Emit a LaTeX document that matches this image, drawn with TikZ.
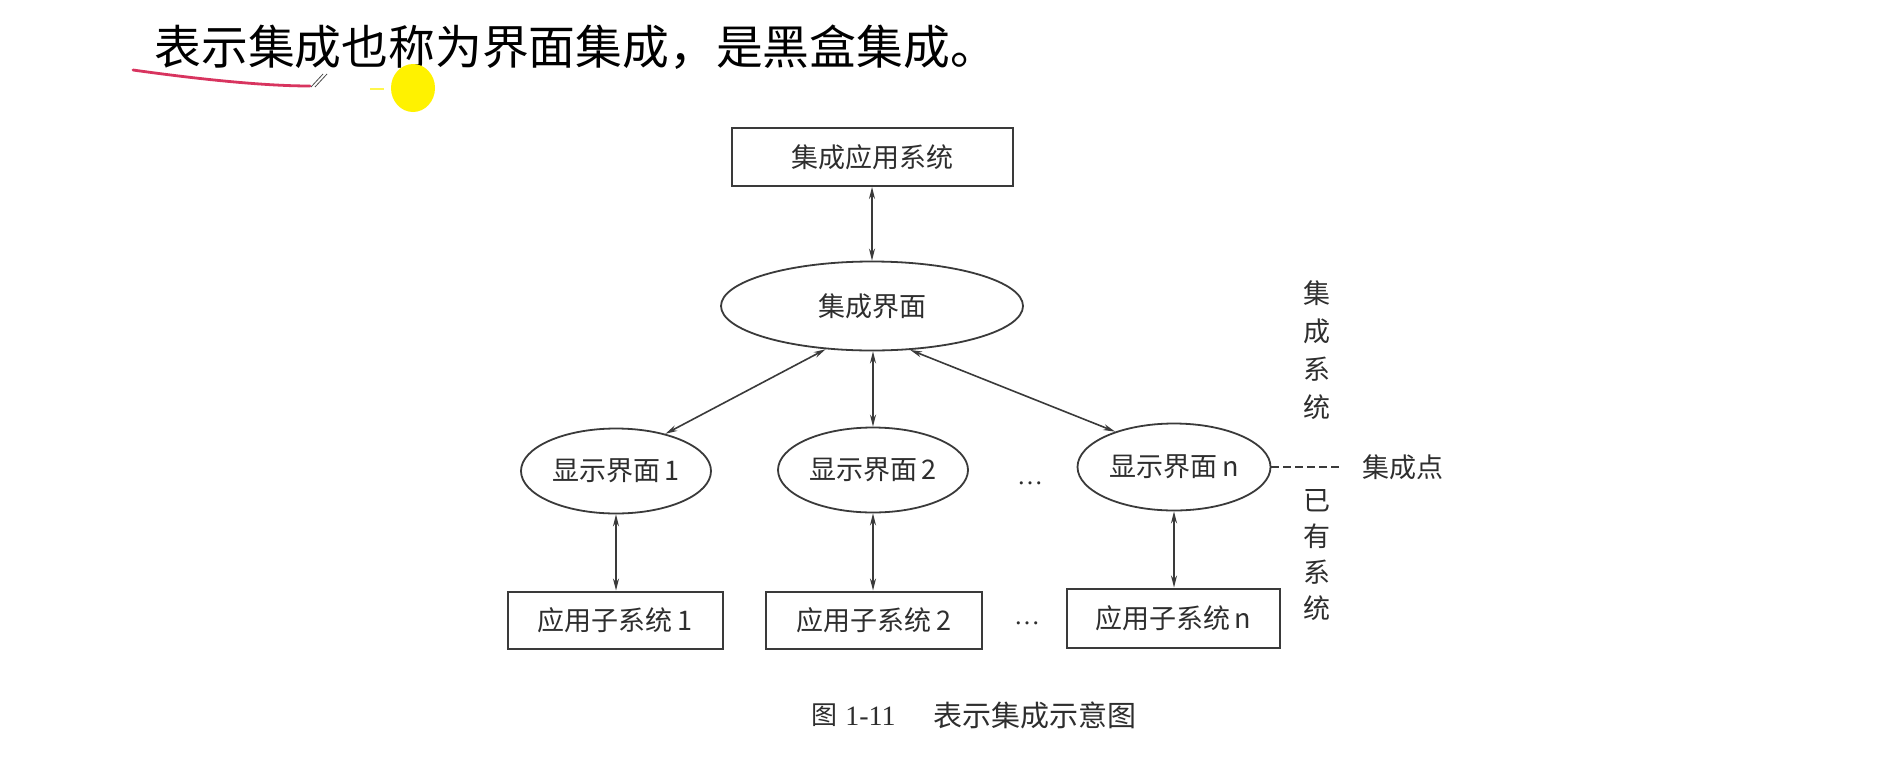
\documentclass[tikz,border=0pt]{standalone}
\usepackage{fontspec}
\setmainfont{Liberation Serif}
\newfontfamily\cjk{Noto Sans CJK SC}
\usetikzlibrary{shapes.geometric,arrows.meta}
\definecolor{lc}{HTML}{3A3A3A}
\definecolor{tc}{HTML}{2E2E2E}
\definecolor{pen}{HTML}{D8345F}
\definecolor{hl}{HTML}{FFF200}
\begin{document}
\begin{tikzpicture}[x=0.5pt,y=-0.5pt,
  box/.style={draw=lc,line width=1pt,inner sep=0pt,text=tc,font=\cjk\fontsize{13.5}{16}\selectfont},
  oval/.style={ellipse,draw=lc,line width=0.9pt,inner sep=0pt,text=tc,font=\cjk\fontsize{13.5}{16}\selectfont},
  link/.style={draw=lc,line width=0.8pt,{Stealth[length=6pt,width=3pt]}-{Stealth[length=6pt,width=3pt]}},
  lbl/.style={text=tc,inner sep=0pt,font=\cjk\fontsize{13.5}{16}\selectfont}]
\useasboundingbox (0,0) rectangle (1883,766);
\fill[white] (0,0) rectangle (1883,766);

% title and annotations
\node[anchor=west,inner sep=0pt,font=\cjk\fontsize{23.4}{28}\selectfont] (title) at (154,47) {表示集成也称为界面集成，是黑盒集成。};
\draw[pen,line width=1.4pt,line cap=round] (133,70) .. controls (190,78) and (260,86) .. (310,86);
\draw[gray!60!black,line width=0.4pt] (311,87) -- (323,74) (315,87) -- (327,74);
\draw[hl!70,line width=1pt] (370,89) -- (384,89);
\fill[hl] (413,88) ellipse [x radius=22, y radius=24];

% diagram nodes
\node[box,minimum width=140.5pt,minimum height=29pt] (top) at (872,157) {集成应用系统};
\node[oval,minimum width=151pt,minimum height=44.5pt] (ci) at (872,306) {集成界面};
\node[oval,minimum width=95pt,minimum height=42.5pt] (e1) at (616,471) {{\cjk 显示界面}\,1};
\node[oval,minimum width=95pt,minimum height=42.5pt] (e2) at (873,470) {{\cjk 显示界面}\,2};
\node[oval,minimum width=96.5pt,minimum height=43.5pt] (en) at (1174,467) {{\cjk 显示界面}\,n};
\node[box,minimum width=107.5pt,minimum height=28.5pt] (b1) at (615,620) {{\cjk 应用子系统}\,1};
\node[box,minimum width=108pt,minimum height=28.5pt] (b2) at (874,620) {{\cjk 应用子系统}\,2};
\node[box,minimum width=106.5pt,minimum height=29.5pt] (bn) at (1173,618) {{\cjk 应用子系统}\,n};
\node[anchor=base,inner sep=0pt,text=tc,font=\fontsize{13}{15}\selectfont] (dots1) at (1030,484) {\dots};
\node[anchor=base,inner sep=0pt,text=tc,font=\fontsize{13}{15}\selectfont] (dots2) at (1027,624) {\dots};

% connectors
\draw[link] (top.south) -- (ci.north);
\draw[link] (ci.223) -- (e1.37);
\draw[link] (ci.south -| e2.north) -- (e2.north);
\draw[link] (ci.311) -- (en.149);
\draw[link] (e1.south) -- (e1.south |- b1.north);
\draw[link] (e2.south) -- (e2.south |- b2.north);
\draw[link] (en.south) -- (en.south |- bn.north);

% side labels
\coordinate (dashend) at (1342,467);
\draw[lc,line width=0.7pt,dash pattern=on 4pt off 2pt] (en.east) -- (dashend);
\node[lbl,anchor=west] (point) at (1362,467) {集成点};
\node[lbl,align=center,font=\cjk\fontsize{13.5}{19}\selectfont] (sysA) at (1317,350) {集\\成\\系\\统};
\node[lbl,align=center,font=\cjk\fontsize{13.5}{18}\selectfont] (sysB) at (1317,555) {已\\有\\系\\统};

% caption
\node[anchor=west,inner sep=0pt,text=tc,font=\cjk\fontsize{13}{15}\selectfont] (capA) at (811,715) {图};
\node[anchor=west,inner sep=0pt,text=tc,font=\fontsize{14}{16}\selectfont] (capB) at (845,716) {1-11};
\node[anchor=west,inner sep=0pt,text=tc,font=\cjk\fontsize{14.5}{16}\selectfont] (capC) at (933,715) {表示集成示意图};
\end{tikzpicture}
\end{document}
